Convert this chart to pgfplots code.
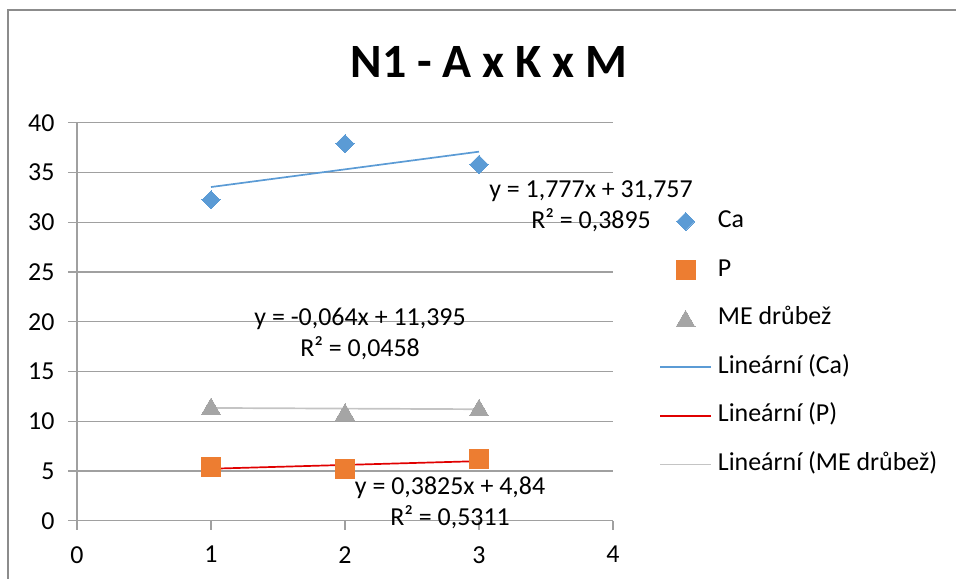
\documentclass[border=0pt]{standalone}
\usepackage{pgfplots}
\pgfplotsset{compat=1.18}
\usepackage{fontspec}
\setmainfont{Carlito}
\definecolor{caBlue}{HTML}{5B9BD5}
\definecolor{pOrange}{HTML}{ED7D31}
\definecolor{meGray}{HTML}{A5A5A5}
\definecolor{gridGray}{HTML}{A0A0A0}
\definecolor{trendRed}{HTML}{E00000}
\definecolor{trendGray}{HTML}{C4C4C4}
\definecolor{frameGray}{HTML}{8C8C8C}
\newcommand{\lbl}{\fontsize{26}{31}\selectfont}
\begin{document}
\begin{tikzpicture}[x=1bp,y=1bp]
\useasboundingbox (0,0) rectangle (956,579);
\draw[frameGray, line width=1.2bp] (8,-5) -- (8,569) -- (961,569);
\node[font=\fontsize{48}{56}\selectfont\bfseries, inner sep=0pt] at (489,517) {N1 - A x K x M};
\begin{axis}[
  at={(77bp,58.3bp)}, anchor=south west,
  scale only axis, width=536bp, height=398bp,
  xmin=0, xmax=4, ymin=0, ymax=40,
  xtick={0,1,2,3,4}, ytick={0,5,...,40},
  axis lines=left, axis line style={-, draw=gridGray, line width=1.2bp},
  ymajorgrids, grid style={gridGray, line width=1.2bp},
  tick align=outside, major tick length=9bp,
  tick style={gridGray, line width=1.2bp},
  /pgf/number format/assume math mode=true,
  ticklabel style={font=\lbl},
  yticklabel style={xshift=-10bp},
  xticklabel style={yshift=-13bp},
  legend style={at={(1.0858,0.78)}, anchor=north west, draw=none, fill=none,
    font=\lbl, inner sep=0pt, row sep=26.6bp,
    nodes={inner sep=0pt, text height=17bp, text depth=5bp}},
  legend cell align=left,
  clip=false,
]
\addplot[only marks, color=caBlue, line width=0pt, mark=square*, mark size=6.4bp, mark options={rotate=45},
  legend image code/.code={\fill[caBlue] (25.5bp,0bp) ++(-9bp,0bp) -- ++(9bp,9bp) -- ++(9bp,-9bp) -- ++(-9bp,-9bp) -- cycle; \path (57bp,0bp);}]
  coordinates {(1,32.25) (2,37.88) (3,35.80)};
\addlegendentry{Ca}
\addplot[only marks, color=pOrange, line width=0pt, mark=square*, mark size=9.5bp,
  legend image code/.code={\fill[pOrange] (16bp,-9.5bp) rectangle (35bp,9.5bp); \path (57bp,0bp);}]
  coordinates {(1,5.43) (2,5.19) (3,6.19)};
\addlegendentry{P}
\addplot[only marks, color=meGray, line width=0pt, mark=triangle*, mark size=11bp, mark options={yshift=-2.75bp},
  legend image code/.code={\fill[meGray] (16bp,-8.25bp) -- (35bp,-8.25bp) -- (25.5bp,8.25bp) -- cycle; \path (57bp,0bp);}]
  coordinates {(1,11.50) (2,10.93) (3,11.37)};
\addlegendentry{ME drůbež}
\addplot[color=caBlue, line width=1.7bp, no marks,
  legend image code/.code={\draw[caBlue, line width=1.7bp] (0bp,0bp) -- (51bp,0bp); \path (57bp,0bp);}]
  coordinates {(1,33.534) (3,37.088)};
\addlegendentry{Lineární (Ca)}
\addplot[color=trendRed, line width=1.7bp, no marks,
  legend image code/.code={\draw[trendRed, line width=1.7bp] (0bp,0bp) -- (51bp,0bp); \path (57bp,0bp);}]
  coordinates {(1,5.2225) (3,5.9875)};
\addlegendentry{Lineární (P)}
\addplot[color=trendGray, line width=1.7bp, no marks,
  legend image code/.code={\draw[trendGray, line width=1.7bp] (0bp,0bp) -- (51bp,0bp); \path (57bp,0bp);}]
  coordinates {(1,11.331) (3,11.203)};
\addlegendentry{Lineární (ME drůbež)}
\node[align=center, font=\lbl, inner sep=0pt] at (axis cs:3.836,31.6) {y = 1,777x + 31,757\\R² = 0,3895};
\node[align=center, font=\lbl, inner sep=0pt] at (axis cs:2.112,18.76) {y = -0,064x + 11,395\\R² = 0,0458};
\node[align=center, font=\lbl, inner sep=0pt] at (axis cs:2.784,1.78) {y = 0,3825x + 4,84\\R² = 0,5311};
\end{axis}
\end{tikzpicture}
\end{document}
